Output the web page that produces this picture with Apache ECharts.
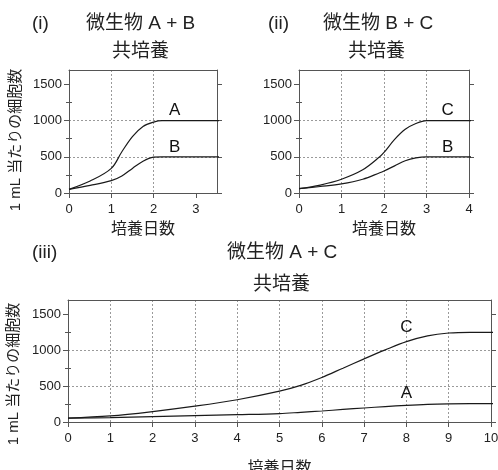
<!DOCTYPE html>
<html><head><meta charset="utf-8">
<script src="https://cdn.jsdelivr.net/npm/echarts@6/dist/echarts.min.js"></script>
<style>html,body{margin:0;padding:0;background:#fff}#c{width:498px;height:470px}</style>
</head><body><div id="c"></div>
<script>
// ---- data ----
const daysAB   = [0, 0.5, 1, 1.25, 1.5, 1.75, 2, 2.2, 2.5, 3, 3.5, 3.75];
const cellsA_AB = [50, 165, 340, 570, 780, 920, 980, 1000, 1000, 1000, 1000, 1000];
const cellsB_AB = [50, 105, 170, 235, 340, 440, 495, 500, 500, 500, 500, 500];

const daysBC   = [0, 0.5, 1, 1.5, 1.9, 2, 2.25, 2.5, 2.75, 3, 3.5, 4, 4.25];
const cellsC_BC = [60, 110, 190, 320, 500, 560, 740, 880, 960, 1000, 1000, 1000, 1000];
const cellsB_BC = [60, 90, 125, 190, 280, 305, 375, 445, 485, 500, 500, 500, 500];

const daysAC   = [0, 1, 2, 3, 4, 5, 5.5, 6, 6.5, 7, 7.5, 8, 8.5, 9, 9.5, 10, 10.2];
const cellsC_AC = [55, 85, 145, 220, 310, 430, 510, 620, 750, 880, 1005, 1120, 1200, 1240, 1250, 1250, 1250];
const cellsA_AC = [55, 62, 75, 88, 102, 118, 135, 153, 175, 195, 215, 232, 245, 252, 255, 255, 255];

const xTicksAB = [0, 1, 2, 3];
const xTicksBC = [0, 1, 2, 3, 4];
const xTicksAC = [0, 1, 2, 3, 4, 5, 6, 7, 8, 9, 10];
const yTicks = [0, 500, 1000, 1500];
const yMinorTicks = [250, 750, 1250];
const yMax = 1700;

const xName = '培養日数';
const yName = '1 mL 当たりの細胞数';

// ---- styling / layout ----
const FONT = "'Liberation Sans', Arial, 'Noto Sans CJK JP', sans-serif";
const AXIS = '#555';
const INK = '#1a1a1a';

const panels = [
  { grid: {left: 69, top: 70, width: 148, height: 123}, xMax: 3.5, xTicks: xTicksAB, days: daysAB,
    lines: [{name: 'A', values: cellsA_AB, labelIdx: 8, dist: 1}, {name: 'B', values: cellsB_AB, labelIdx: 8, dist: 1}],
    showYName: true, yPad: 17, xNameGap: 29 },
  { grid: {left: 299, top: 70, width: 170, height: 123}, xMax: 4, xTicks: xTicksBC, days: daysBC,
    lines: [{name: 'C', values: cellsC_BC, labelIdx: 10, dist: 1}, {name: 'B', values: cellsB_BC, labelIdx: 10, dist: 1}],
    showYName: false, yPad: 0, xNameGap: 29 },
  { grid: {left: 68, top: 300, width: 423, height: 122}, xMax: 10, xTicks: xTicksAC, days: daysAC,
    lines: [{name: 'C', values: cellsC_AC, labelIdx: 11, dist: 5}, {name: 'A', values: cellsA_AC, labelIdx: 11, dist: 3}],
    showYName: true, yPad: 26, xNameGap: 39 }
];

const titles = [
  ['(i)', 32, 14], ['微生物 A + B', 86, 14], ['共培養', 112, 42],
  ['(ii)', 268, 14], ['微生物 B + C', 323, 14], ['共培養', 348, 42],
  ['(iii)', 32, 243], ['微生物 A + C', 227, 243], ['共培養', 253, 275]
];

const option = {
  animation: false,
  backgroundColor: '#fff',
  title: titles.map(t => ({ text: t[0], left: t[1], top: t[2], padding: 0,
    textStyle: { fontFamily: FONT, fontSize: 19, fontWeight: 'normal', color: '#222' } })),
  grid: [], xAxis: [], yAxis: [], series: []
};

panels.forEach((p, gi) => {
  option.grid.push(Object.assign({ outerBoundsMode: 'none', containLabel: false }, p.grid));
  const xb = option.xAxis.length;
  option.xAxis.push({
    type: 'value', gridIndex: gi, position: 'bottom', min: 0, max: p.xMax, interval: 1,
    axisLine: { show: true, onZero: false, lineStyle: { color: AXIS, width: 1 } },
    axisTick: { show: true, customValues: p.xTicks, length: 5, lineStyle: { color: AXIS } },
    axisLabel: { customValues: p.xTicks, formatter: v => String(v), fontFamily: FONT, fontSize: 13, color: '#222', margin: 10 },
    splitLine: { show: true, showMinLine: false, showMaxLine: false, lineStyle: { color: '#9a9a9a', type: [2, 2], width: 1 } },
    name: xName, nameLocation: 'middle', nameGap: p.xNameGap,
    nameTextStyle: { fontFamily: FONT, fontSize: 16, color: '#222' }
  });
  option.xAxis.push({
    type: 'value', gridIndex: gi, position: 'top', min: 0, max: p.xMax,
    axisLine: { show: true, onZero: false, lineStyle: { color: AXIS, width: 1 } },
    axisTick: { show: false }, axisLabel: { show: false }, splitLine: { show: false }
  });
  const yl = option.yAxis.length;
  option.yAxis.push({
    type: 'value', gridIndex: gi, position: 'left', min: 0, max: yMax, interval: 500,
    axisLine: { show: true, onZero: false, lineStyle: { color: AXIS, width: 1 } },
    axisTick: { show: true, customValues: yTicks, length: 5, lineStyle: { color: AXIS } },
    axisLabel: { customValues: yTicks, formatter: v => String(v), fontFamily: FONT, fontSize: 13, color: '#222', margin: 7 },
    splitLine: { show: true, showMinLine: false, showMaxLine: false, lineStyle: { color: '#9a9a9a', type: [2, 2], width: 1 } },
    name: p.showYName ? yName : '', nameLocation: 'middle', nameGap: 46, nameRotate: 90,
    nameTextStyle: { fontFamily: FONT, fontSize: 15, color: '#222', padding: [0, p.yPad, 0, 0] }
  });
  option.yAxis.push({
    type: 'value', gridIndex: gi, position: 'left', min: 0, max: yMax, interval: 250,
    axisLine: { show: false }, axisLabel: { show: false }, splitLine: { show: false },
    axisTick: { show: true, customValues: yMinorTicks, length: 3, lineStyle: { color: AXIS } }
  });
  option.yAxis.push({
    type: 'value', gridIndex: gi, position: 'right', min: 0, max: yMax, interval: 500,
    axisLine: { show: true, onZero: false, lineStyle: { color: AXIS, width: 1 } },
    axisTick: { show: true, customValues: yTicks, length: 5, lineStyle: { color: AXIS } },
    axisLabel: { show: false }, splitLine: { show: false }
  });
  option.yAxis.push({
    type: 'value', gridIndex: gi, position: 'right', min: 0, max: yMax, interval: 250,
    axisLine: { show: false }, axisLabel: { show: false }, splitLine: { show: false },
    axisTick: { show: true, customValues: yMinorTicks, length: 3, lineStyle: { color: AXIS } }
  });
  p.lines.forEach(l => {
    option.series.push({
      type: 'line', name: l.name, xAxisIndex: xb, yAxisIndex: yl,
      data: p.days.map((d, i) => [d, l.values[i]]),
      smooth: 0.35, showSymbol: false, symbol: 'none', clip: false,
      lineStyle: { color: INK, width: 1.2 },
      markPoint: {
        symbol: 'circle', symbolSize: 1, itemStyle: { color: 'rgba(0,0,0,0)' },
        data: [{ coord: [p.days[l.labelIdx], l.values[l.labelIdx]] }],
        label: { show: true, formatter: l.name, position: 'top', distance: l.dist,
          fontFamily: FONT, fontSize: 17, color: '#111' }
      }
    });
  });
});

const chart = echarts.init(document.getElementById('c'), null, { renderer: 'canvas' });
chart.setOption(option);
</script></body></html>
